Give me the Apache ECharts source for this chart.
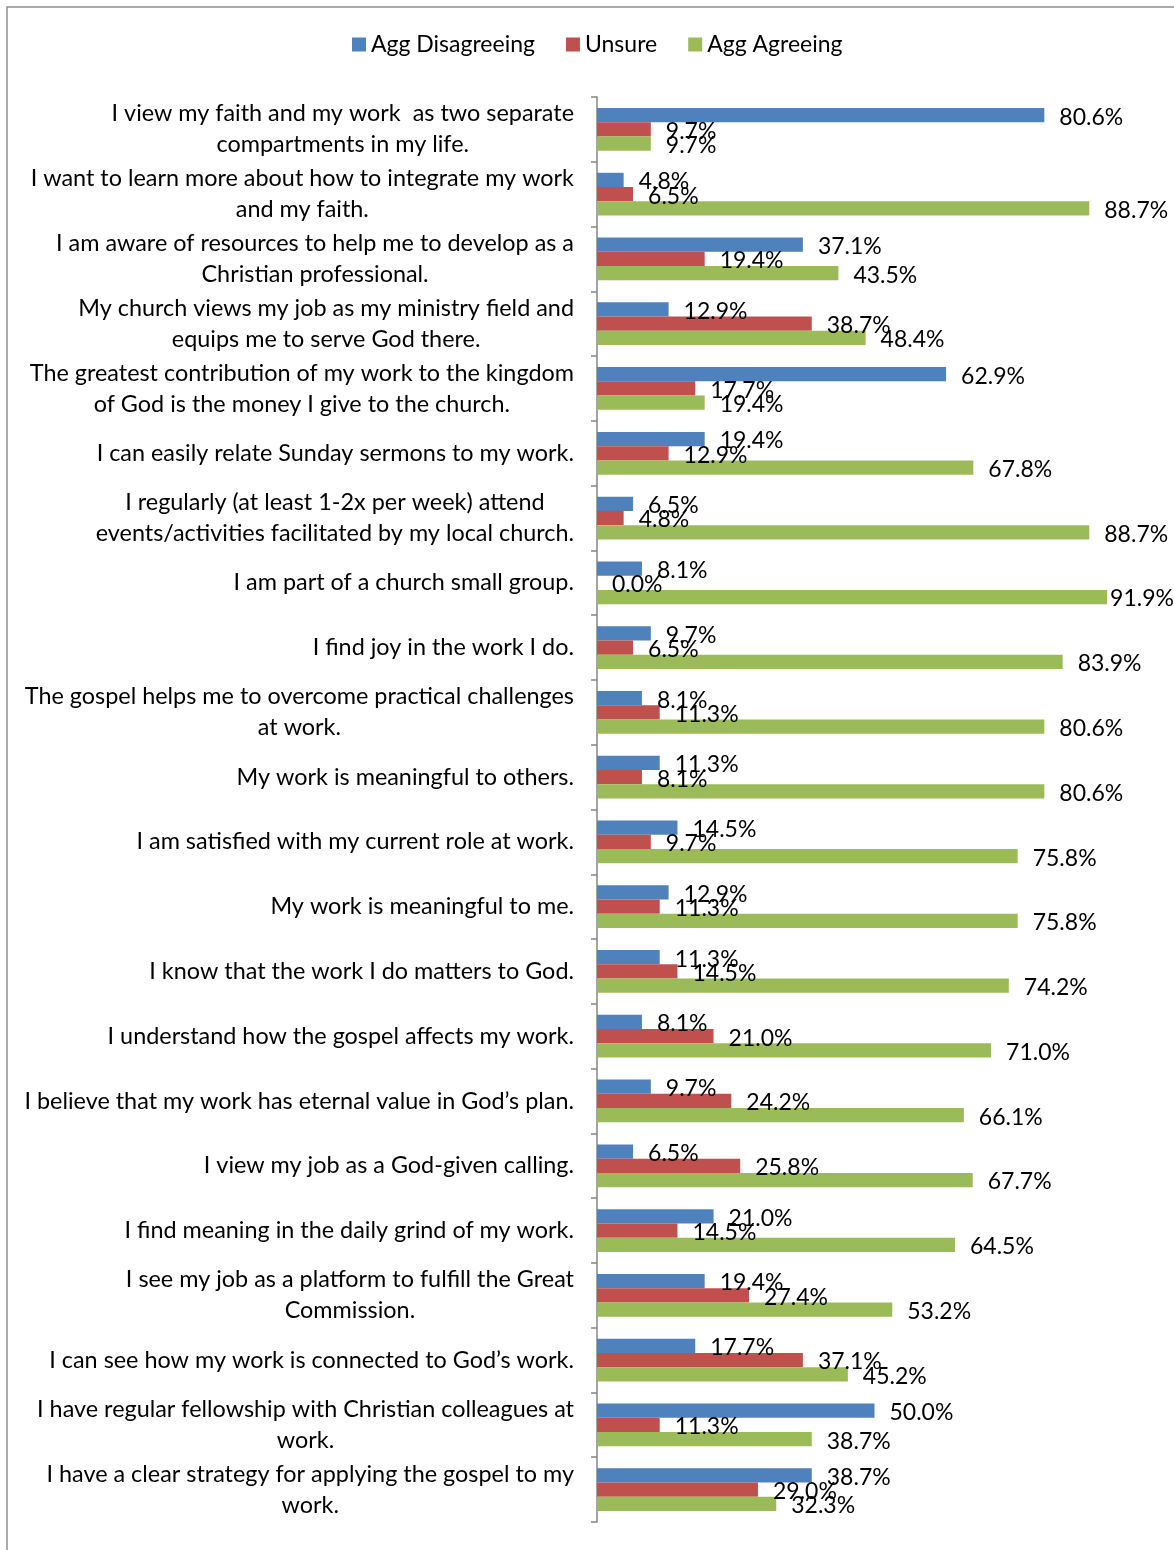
<!DOCTYPE html>
<html>
<head>
<meta charset="utf-8">
<script src="https://cdn.jsdelivr.net/npm/echarts@6/dist/echarts.min.js"></script>
<style>
  html, body { margin: 0; padding: 0; background: #ffffff; }
  #chart { width: 1174px; height: 1550px; }
</style>
</head>
<body>
<div id="chart"></div>
<script>
// Survey statements (line breaks mark where the wrapped label splits)
const statements = [
  "I view my faith and my work  as two separate\ncompartments in my life.",
  "I want to learn more about how to integrate my work\nand my faith.",
  "I am aware of resources to help me to develop as a\nChristian professional.",
  "My church views my job as my ministry field and\nequips me to serve God there.",
  "The greatest contribution of my work to the kingdom\nof God is the money I give to the church.",
  "I can easily relate Sunday sermons to my work.",
  "I regularly (at least 1-2x per week) attend\nevents/activities facilitated by my local church.",
  "I am part of a church small group.",
  "I find joy in the work I do.",
  "The gospel helps me to overcome practical challenges\nat work.",
  "My work is meaningful to others.",
  "I am satisfied with my current role at work.",
  "My work is meaningful to me.",
  "I know that the work I do matters to God.",
  "I understand how the gospel affects my work.",
  "I believe that my work has eternal value in God\u2019s plan.",
  "I view my job as a God-given calling.",
  "I find meaning in the daily grind of my work.",
  "I see my job as a platform to fulfill the Great\nCommission.",
  "I can see how my work is connected to God\u2019s work.",
  "I have regular fellowship with Christian colleagues at\nwork.",
  "I have a clear strategy for applying the gospel to my\nwork."
];

const seriesNames = ["Agg Disagreeing", "Unsure", "Agg Agreeing"];

// Percent of respondents per statement
const aggDisagreeing = [80.6, 4.8, 37.1, 12.9, 62.9, 19.4, 6.5, 8.1, 9.7, 8.1, 11.3, 14.5, 12.9, 11.3, 8.1, 9.7, 6.5, 21.0, 19.4, 17.7, 50.0, 38.7];
const unsure         = [9.7, 6.5, 19.4, 38.7, 17.7, 12.9, 4.8, 0.0, 6.5, 11.3, 8.1, 9.7, 11.3, 14.5, 21.0, 24.2, 25.8, 14.5, 27.4, 37.1, 11.3, 29.0];
const aggAgreeing    = [9.7, 88.7, 43.5, 48.4, 19.4, 67.8, 88.7, 91.9, 83.9, 80.6, 80.6, 75.8, 75.8, 74.2, 71.0, 66.1, 67.7, 64.5, 53.2, 45.2, 38.7, 32.3];

const colors = ["#4F81BD", "#C0504D", "#9BBB59"];
const FONT = "Lato, 'Noto Sans', sans-serif";

// Values near the right edge get their label tucked closer to the bar
function toItems(values) {
  return values.map(v => v > 90 ? { value: v, label: { distance: 3 } } : v);
}

const seriesData = [aggDisagreeing, unsure, aggAgreeing];

const chart = echarts.init(document.getElementById('chart'), null, { renderer: 'canvas' });

chart.setOption({
  backgroundColor: '#ffffff',
  animation: false,
  color: colors,
  graphic: [{
    type: 'rect',
    shape: { x: 7, y: 7, width: 2000, height: 2000 },
    style: { fill: 'none', stroke: '#8e8e8e', lineWidth: 1.5 },
    silent: true
  }],
  legend: {
    top: 28,
    left: 347,
    itemWidth: 14,
    itemHeight: 14,
    itemGap: 31,
    icon: 'rect',
    textStyle: { fontFamily: FONT, fontSize: 23, color: '#000' },
    data: seriesNames
  },
  grid: {
    left: 597,
    right: 22,
    top: 97,
    bottom: 28,
    containLabel: false
  },
  xAxis: {
    type: 'value',
    min: 0,
    max: 100,
    show: false,
    splitLine: { show: false }
  },
  yAxis: {
    type: 'category',
    inverse: true,
    data: statements,
    axisLine: { show: true, lineStyle: { color: '#868686', width: 1.5 } },
    axisTick: { show: true, length: 6, lineStyle: { color: '#868686', width: 1.5 } },
    axisLabel: {
      margin: 23,
      align: 'right',
      color: '#000',
      fontFamily: FONT,
      fontSize: 23.4,
      lineHeight: 31,
      formatter: v => v.split('\n').map(l => '{c|' + l + '}').join('\n'),
      rich: {
        c: { align: 'center', fontFamily: FONT, fontSize: 23.4, lineHeight: 31, color: '#000' }
      }
    }
  },
  series: seriesNames.map((name, i) => ({
    name,
    type: 'bar',
    barGap: '0%',
    barCategoryGap: '34%',
    data: toItems(seriesData[i]),
    itemStyle: { color: colors[i] },
    label: {
      show: true,
      position: 'right',
      distance: 15,
      offset: [0, 2],
      color: '#000',
      fontFamily: FONT,
      fontSize: 23,
      formatter: p => Number(p.value).toFixed(1) + '%'
    }
  }))
});
</script>
</body>
</html>
